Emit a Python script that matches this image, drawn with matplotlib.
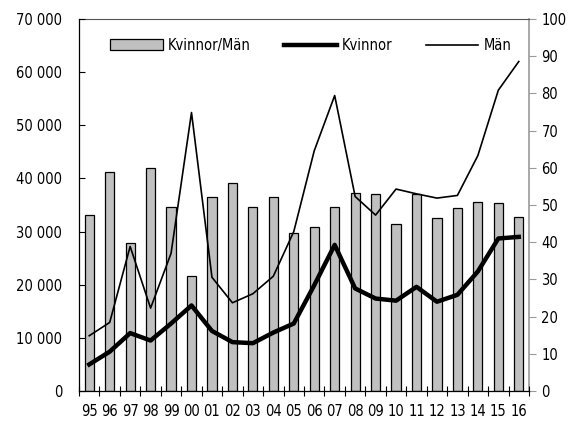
import matplotlib
matplotlib.use('Agg')
import matplotlib.pyplot as plt
from matplotlib.ticker import FuncFormatter, MultipleLocator, FixedLocator
import numpy as np

plt.rcParams['font.family'] = ['DejaVu Sans']
plt.rcParams['font.stretch'] = 'condensed'
plt.rcParams['font.size'] = 10.5

years = ['95', '96', '97', '98', '99', '00', '01', '02', '03', '04', '05',
         '06', '07', '08', '09', '10', '11', '12', '13', '14', '15', '16']
kvinnor = [5000, 7400, 10900, 9500, 12700, 16100, 11300, 9200, 9000, 11000, 12700,
           19900, 27500, 19300, 17400, 17000, 19600, 16800, 18100, 22500, 28700, 29000]
man = [10400, 12900, 27200, 15600, 25900, 52400, 21400, 16600, 18300, 21600, 30000,
       45200, 55600, 36600, 33100, 38000, 37100, 36300, 36800, 44300, 56600, 62000]
ratio = [47.4, 58.8, 39.7, 59.9, 49.5, 30.8, 52.1, 55.9, 49.5, 52.1, 42.4,
         44.1, 49.5, 53.2, 53.0, 44.8, 53.0, 46.4, 49.2, 50.9, 50.6, 46.8]

x = np.arange(len(years))

fig = plt.figure(figsize=(5.75, 4.24), dpi=100)
ax = fig.add_axes([0.1374, 0.0778, 0.7826, 0.8774])
ax2 = ax.twinx()

# bars on the right axis, lines on the left axis drawn on top
bars = ax2.bar(x, ratio, width=0.45, color='#c0c0c0', edgecolor='black', linewidth=0.9,
               label='Kvinnor/Män')
ax.set_zorder(ax2.get_zorder() + 1)
ax.patch.set_visible(False)
l1, = ax.plot(x, kvinnor, color='black', linewidth=3.2, label='Kvinnor')
l2, = ax.plot(x, man, color='black', linewidth=1.2, label='Män')

ax.set_xlim(-0.5, len(years) - 0.5)
ax.set_ylim(0, 70000)
ax2.set_ylim(0, 100)

ax.yaxis.set_major_locator(MultipleLocator(10000))
ax.yaxis.set_major_formatter(FuncFormatter(lambda v, p: f'{int(v):,}'.replace(',', ' ')))
ax2.yaxis.set_major_locator(MultipleLocator(10))

ax.set_xticks(x)
ax.set_xticklabels(years)
ax.xaxis.set_minor_locator(FixedLocator(np.arange(-0.5, len(years), 1.0)))
ax.tick_params(axis='x', which='major', length=0, pad=9)
ax.tick_params(axis='x', which='minor', direction='inout', length=7, width=0.8)
ax.tick_params(axis='y', direction='in', length=4, width=0.8, pad=12)
ax2.tick_params(axis='y', direction='out', length=5, width=0.8, color='#999999', pad=4)
ax2.tick_params(axis='x', length=0)

for s in ['top', 'right']:
    ax.spines[s].set_visible(False)
ax2.spines['left'].set_visible(False)
ax2.spines['bottom'].set_visible(False)
ax2.spines['right'].set_color('#999999')
ax2.spines['right'].set_linewidth(1.2)
ax2.spines['top'].set_color('#555555')
ax.spines['left'].set_linewidth(0.9)
ax.spines['bottom'].set_linewidth(0.9)

ax.legend([bars, l1, l2], ['Kvinnor/Män', 'Kvinnor', 'Män'], loc='upper center',
          ncol=3, frameon=False, handlelength=3.6, columnspacing=2.3,
          bbox_to_anchor=(0.515, 0.985), handletextpad=0.35)

fig.savefig('out.png', dpi=100)
